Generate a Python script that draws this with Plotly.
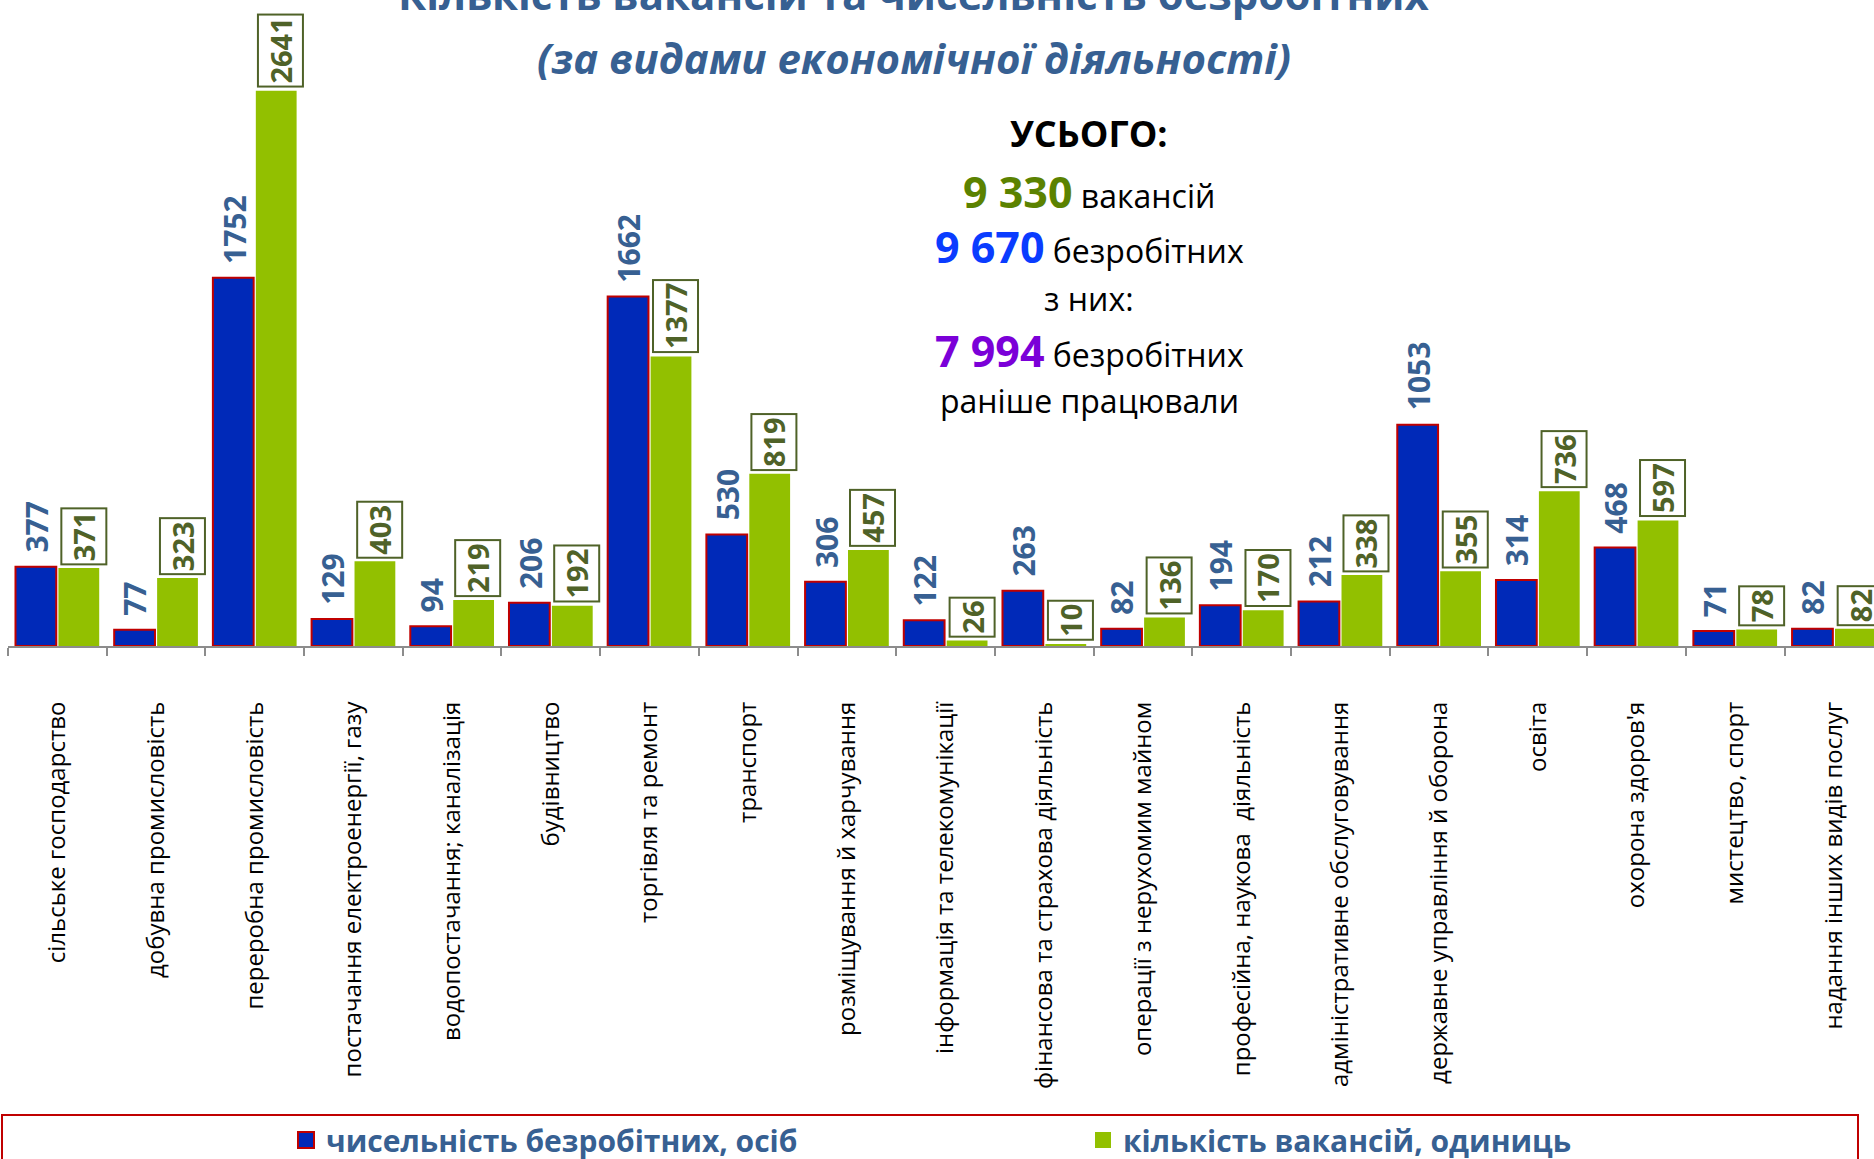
import plotly.graph_objects as go

categories = [
    "сільське господарство",
    "добувна промисловість",
    "переробна промисловість",
    "постачання електроенергії, газу",
    "водопостачання; каналізація",
    "будівництво",
    "торгівля та ремонт",
    "транспорт",
    "розміщування й харчування",
    "інформація та телекомунікації",
    "фінансова та страхова діяльність",
    "операції з нерухомим майном",
    "професійна, наукова  діяльність",
    "адміністративне обслуговування",
    "державне управління й оборона",
    "освіта",
    "охорона здоров'я",
    "мистецтво, спорт",
    "надання інших видів послуг",
]
unemployed = [377, 77, 1752, 129, 94, 206, 1662, 530, 306, 122, 263, 82, 194, 212, 1053, 314, 468, 71, 82]
vacancies = [371, 323, 2641, 403, 219, 192, 1377, 819, 457, 26, 10, 136, 170, 338, 355, 736, 597, 78, 82]

name_unemp = "чисельність безробітних, осіб"
name_vac = "кількість вакансій, одиниць"

total_vac = "9 330"
total_unemp = "9 670"
total_prev = "7 994"

BLUE = "#0029B8"
GREEN = "#92C000"
RED = "#C00000"
STEEL = "#376092"
OLIVE = "#4F6228"

W, H = 1874, 1159
ML, MB = 8, 513
PH = H - MB  # plot height in px


def py(p):
    """paper y for pixel row p (from top)"""
    return 1 - p / PH


def px(x):
    return (x - ML) / (W - ML)


fig = go.Figure()
fig.add_trace(go.Bar(
    x=categories, y=unemployed, name=name_unemp, showlegend=False,
    marker=dict(color=BLUE, line=dict(color=RED, width=2)),
    hoverinfo="x+y",
))
fig.add_trace(go.Bar(
    x=categories, y=vacancies, name=name_vac, showlegend=False,
    marker=dict(color=GREEN, line=dict(color=GREEN, width=0)),
    hoverinfo="x+y",
))
# legend entries (larger square keys)
fig.add_trace(go.Scatter(
    x=[None], y=[None], mode="markers", name=name_unemp,
    marker=dict(symbol="square", size=18, color=BLUE, line=dict(color=RED, width=2)),
))
fig.add_trace(go.Scatter(
    x=[None], y=[None], mode="markers", name=name_vac,
    marker=dict(symbol="square", size=18, color=GREEN, line=dict(color=GREEN, width=0)),
))

ann = []
for c, u, v in zip(categories, unemployed, vacancies):
    ann.append(dict(
        x=c, y=u, xref="x", yref="y", text=f"<b>{u}</b>", showarrow=False,
        textangle=-90, xanchor="center", yanchor="bottom", xshift=-21, yshift=12,
        font=dict(family="Open Sans", size=30, color=STEEL),
    ))
    ann.append(dict(
        x=c, y=v, xref="x", yref="y", text=f"<b>{v}</b>", showarrow=False,
        textangle=-90, xanchor="center", yanchor="bottom", xshift=26, yshift=3,
        font=dict(family="Open Sans", size=29, color=OLIVE),
        bordercolor=OLIVE, borderwidth=2, borderpad=2, bgcolor="white",
    ))

# titles
ann.append(dict(
    x=px(914), y=py(-6), xref="paper", yref="paper", showarrow=False,
    text="<b>Кількість вакансій та чисельність безробітних</b>",
    xanchor="center", yanchor="middle",
    font=dict(family="Open Sans", size=42, color=STEEL),
))
ann.append(dict(
    x=px(914), y=py(57), xref="paper", yref="paper", showarrow=False,
    text="<b><i>(за видами економічної діяльності)</i></b>",
    xanchor="center", yanchor="middle",
    font=dict(family="Open Sans", size=42, color=STEEL),
))

# totals block
cx = px(1089)
lines = [
    (134, "<b>УСЬОГО:</b>", 36),
    (191, f"<b><span style='color:#5B8200;font-size:43px'>{total_vac}</span></b> вакансій", 32),
    (247, f"<b><span style='color:#0a3cff;font-size:43px'>{total_unemp}</span></b> безробітних", 32),
    (298, "з них:", 32),
    (350, f"<b><span style='color:#7B00D8;font-size:43px'>{total_prev}</span></b> безробітних", 32),
    (401, "раніше працювали", 32),
]
for p, t, s in lines:
    ann.append(dict(
        x=cx, y=py(p), xref="paper", yref="paper", showarrow=False, text=t,
        xanchor="center", yanchor="middle",
        font=dict(family="Open Sans", size=s, color="black"),
    ))

fig.update_layout(
    width=W, height=H,
    margin=dict(l=ML, r=0, t=0, b=MB, autoexpand=False),
    paper_bgcolor="white", plot_bgcolor="white",
    barmode="group", bargap=0.13, bargroupgap=0.05,
    annotations=ann,
    showlegend=True,
    legend=dict(
        orientation="h", x=px(286), xanchor="left", y=py(1140), yanchor="middle",
        font=dict(family="Open Sans", size=30, color=STEEL, weight="bold"),
        entrywidth=752, bgcolor="rgba(0,0,0,0)", borderwidth=0, itemsizing="trace",
    ),
    shapes=[dict(
        type="rect", xref="paper", yref="paper",
        x0=px(2), x1=px(1858), y0=py(1115), y1=py(1175),
        line=dict(color=RED, width=2), fillcolor="rgba(0,0,0,0)",
    )],
    xaxis=dict(
        range=[-0.5, 18.406], showgrid=False, showline=True, linecolor="#8C8C8C", linewidth=2,
        ticks="outside", tickson="boundaries", ticklen=8, tickcolor="#8C8C8C", tickwidth=2,
        tickangle=-90, ticklabelstandoff=44,
        tickfont=dict(family="Open Sans", size=24, color="black"),
        automargin=False, fixedrange=True,
    ),
    yaxis=dict(
        range=[0, 3073], visible=False, showgrid=False, zeroline=False,
        automargin=False, fixedrange=True,
    ),
    font=dict(family="Open Sans"),
)

fig.write_html(
    "out.html",
    config={"displayModeBar": False},
    post_script="document.body.style.margin='0px';document.body.style.overflow='hidden';",
)
